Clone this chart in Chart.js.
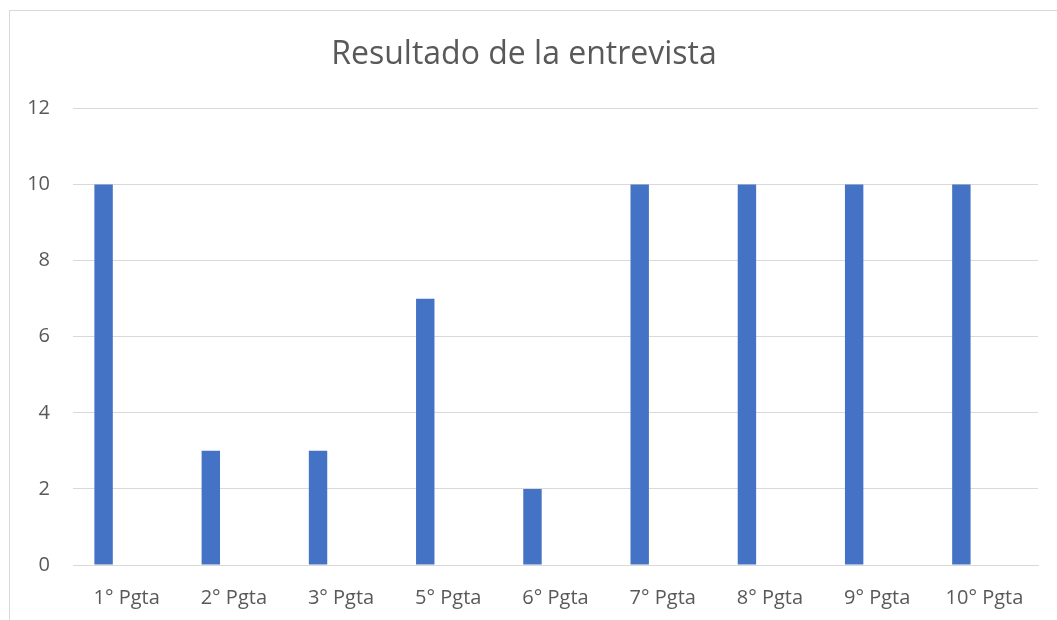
<!DOCTYPE html>
<html>
<head>
<meta charset="utf-8">
<script src="https://cdn.jsdelivr.net/npm/chart.js@4.4.0/dist/chart.umd.min.js"></script>
<style>
  html, body { margin: 0; padding: 0; background: #fff; overflow: hidden; }
  #box {
    position: absolute; left: 9px; top: 10px;
    width: 1060px; height: 620px;
    border-left: 1px solid #d9d9d9; border-top: 1px solid #d9d9d9;
  }
  #wrap { position: absolute; left: 0; top: 0; width: 1047px; height: 609px; }
</style>
</head>
<body>
<div id="box"><div id="wrap"><canvas id="barChart"></canvas></div></div>
<script>
const categories = ['1° Pgta', '2° Pgta', '3° Pgta', '5° Pgta', '6° Pgta', '7° Pgta', '8° Pgta', '9° Pgta', '10° Pgta'];
const serie1 = [10, 3, 3, 7, 2, 10, 10, 10, 10];
// las otras dos series de la hoja están vacías, pero ocupan su lugar en el grupo
const serie2 = [null, null, null, null, null, null, null, null, null];
const serie3 = [null, null, null, null, null, null, null, null, null];
const yTicks = [0, 2, 4, 6, 8, 10, 12];

const textColor = '#595959';
const gridColor = '#d9d9d9';

const ctx = document.getElementById('barChart').getContext('2d');
const barChart = new Chart(ctx, {
    type: 'bar',
    data: {
        labels: categories,
        datasets: [
            { label: 'Serie 1', data: serie1, backgroundColor: '#4472c4', barPercentage: 0.8, categoryPercentage: 0.644 },
            { label: 'Serie 2', data: serie2, backgroundColor: '#ed7d31', barPercentage: 0.8, categoryPercentage: 0.644 },
            { label: 'Serie 3', data: serie3, backgroundColor: '#a5a5a5', barPercentage: 0.8, categoryPercentage: 0.644 }
        ]
    },
    options: {
        responsive: true,
        maintainAspectRatio: false,
        animation: false,
        layout: { padding: { left: 0, right: 19, top: 0, bottom: 8 } },
        plugins: {
            legend: { display: false },
            tooltip: { enabled: false },
            title: {
                display: true,
                text: 'Resultado de la entrevista',
                color: textColor,
                font: { family: 'Open Sans', size: 32, weight: 'normal' },
                padding: { top: 25, bottom: 34 }
            }
        },
        scales: {
            x: {
                afterFit: function (scale) {
                    scale.height = 47;
                },
                grid: { display: false, drawTicks: false },
                border: { color: gridColor, width: 1 },
                ticks: {
                    color: textColor,
                    padding: 21,
                    maxRotation: 0,
                    font: { family: 'Open Sans', size: 20 }
                }
            },
            y: {
                min: 0,
                max: 12,
                afterBuildTicks: function (scale) {
                    scale.ticks = yTicks.map(v => ({ value: v }));
                },
                afterFit: function (scale) {
                    scale.width = 63; // eje a la misma altura que en la hoja
                },
                grid: { color: gridColor, lineWidth: 1, drawTicks: false },
                border: { display: false },
                ticks: {
                    color: textColor,
                    padding: 23,
                    font: { family: 'Open Sans', size: 20 }
                }
            }
        }
    }
});
</script>
</body>
</html>
